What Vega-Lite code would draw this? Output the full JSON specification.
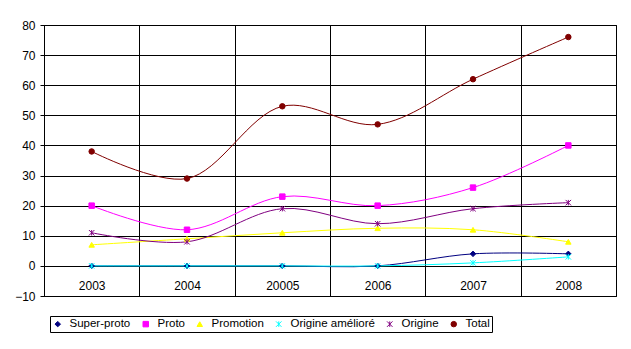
{
  "$schema": "https://vega.github.io/schema/vega-lite/v6.json",
  "width": 572,
  "height": 271,
  "autosize": "none",
  "padding": {"left": 44, "top": 25, "right": 15, "bottom": 53},
  "background": "white",
  "config": {
    "font": "Liberation Sans",
    "view": {"stroke": "black", "strokeWidth": 1},
    "axis": {"labelFont": "Liberation Sans", "labelFontSize": 12, "labelColor": "black", "domainColor": "black", "tickColor": "black", "gridColor": "black", "gridOpacity": 1, "gridWidth": 1}
  },
  "data": {"values": [
    {"year": "2003", "series": "Super-proto", "value": 0},
    {"year": "2004", "series": "Super-proto", "value": 0},
    {"year": "20005", "series": "Super-proto", "value": 0},
    {"year": "2006", "series": "Super-proto", "value": 0},
    {"year": "2007", "series": "Super-proto", "value": 4},
    {"year": "2008", "series": "Super-proto", "value": 4},
    {"year": "2003", "series": "Proto", "value": 20},
    {"year": "2004", "series": "Proto", "value": 12},
    {"year": "20005", "series": "Proto", "value": 23},
    {"year": "2006", "series": "Proto", "value": 20},
    {"year": "2007", "series": "Proto", "value": 26},
    {"year": "2008", "series": "Proto", "value": 40},
    {"year": "2003", "series": "Promotion", "value": 7},
    {"year": "2004", "series": "Promotion", "value": 9},
    {"year": "20005", "series": "Promotion", "value": 11},
    {"year": "2006", "series": "Promotion", "value": 12.5},
    {"year": "2007", "series": "Promotion", "value": 12},
    {"year": "2008", "series": "Promotion", "value": 8},
    {"year": "2003", "series": "Origine amélioré", "value": 0},
    {"year": "2004", "series": "Origine amélioré", "value": 0},
    {"year": "20005", "series": "Origine amélioré", "value": 0},
    {"year": "2006", "series": "Origine amélioré", "value": 0},
    {"year": "2007", "series": "Origine amélioré", "value": 1},
    {"year": "2008", "series": "Origine amélioré", "value": 3},
    {"year": "2003", "series": "Origine", "value": 11},
    {"year": "2004", "series": "Origine", "value": 8},
    {"year": "20005", "series": "Origine", "value": 19},
    {"year": "2006", "series": "Origine", "value": 14},
    {"year": "2007", "series": "Origine", "value": 19},
    {"year": "2008", "series": "Origine", "value": 21},
    {"year": "2003", "series": "Total", "value": 38},
    {"year": "2004", "series": "Total", "value": 29},
    {"year": "20005", "series": "Total", "value": 53},
    {"year": "2006", "series": "Total", "value": 47},
    {"year": "2007", "series": "Total", "value": 62},
    {"year": "2008", "series": "Total", "value": 76}
  ]},
  "encoding": {
    "x": {
      "field": "year", "type": "nominal", "sort": null, "title": null,
      "scale": {"type": "band", "paddingInner": 0, "paddingOuter": 0},
      "axis": {"labelAngle": 0, "ticks": false, "tickSize": 0, "domain": false, "grid": true, "tickBand": "extent", "labelPadding": -11, "labelBaseline": "middle"}
    },
    "y": {
      "field": "value", "type": "quantitative", "title": null,
      "scale": {"domain": [-10, 80], "nice": false, "zero": false},
      "axis": {"values": [-10, 0, 10, 20, 30, 40, 50, 60, 70, 80], "grid": true, "tickSize": 4, "labelPadding": 5}
    },
    "color": {
      "field": "series", "type": "nominal", "title": null,
      "scale": {
        "domain": ["Super-proto", "Proto", "Promotion", "Origine amélioré", "Origine", "Total"],
        "range": ["#000080", "#FF00FF", "#FFFF00", "#00FFFF", "#800080", "#800000"]
      },
      "legend": {
        "orient": "none", "direction": "horizontal", "legendX": 6, "legendY": 291,
        "strokeColor": "black", "padding": 2, "columnPadding": 9, "symbolSize": 30, "symbolStrokeWidth": 1,
        "labelFont": "Liberation Sans", "labelFontSize": 11.5, "labelColor": "black", "labelOffset": 6
      }
    }
  },
  "layer": [
    {"mark": {"type": "line", "interpolate": "catmull-rom", "strokeWidth": 1}},
    {
      "mark": {"type": "point", "filled": true, "size": 30, "strokeWidth": 1, "opacity": 1},
      "encoding": {
        "shape": {
          "field": "series", "type": "nominal", "title": null,
          "scale": {
            "domain": ["Super-proto", "Proto", "Promotion", "Origine amélioré", "Origine", "Total"],
            "range": ["diamond", "square", "triangle-up", "M-1,-1L1,1M-1,1L1,-1M0,-1L0,1", "M-1,-1L1,1M-1,1L1,-1M0,-1L0,1", "circle"]
          }
        },
        "stroke": {
          "field": "series", "type": "nominal", "legend": null,
          "scale": {
            "domain": ["Super-proto", "Proto", "Promotion", "Origine amélioré", "Origine", "Total"],
            "range": ["#000080", "#FF00FF", "#FFFF00", "#00FFFF", "#800080", "#800000"]
          }
        }
      }
    }
  ]
}
